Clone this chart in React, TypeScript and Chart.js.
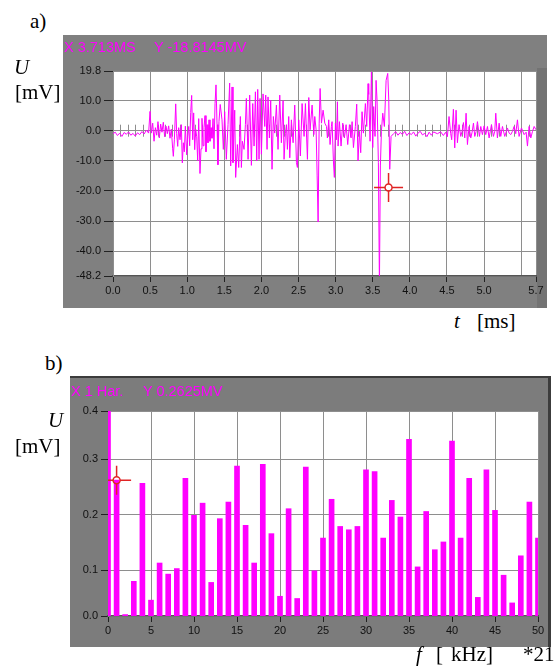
import React, { useEffect, useRef } from 'react';
import { Chart, registerables } from 'chart.js';

Chart.register(...registerables);

// ---------- Chart a): time signal ----------
const TIME_MS = [
  0.00, 0.03, 0.06, 0.09, 0.12, 0.15, 0.18, 0.21, 0.24, 0.27, 0.30, 0.33, 0.36, 0.39, 0.42, 0.45, 0.48,
  0.499, 0.517, 0.535, 0.553, 0.571, 0.589, 0.606, 0.624, 0.642, 0.660, 0.678, 0.696, 0.714, 0.732, 0.750,
  0.768, 0.786, 0.804, 0.813, 0.827, 0.845, 0.858, 0.872, 0.885, 0.903, 0.921, 0.934, 0.948, 0.961, 0.975,
  0.993, 1.006, 1.020, 1.033, 1.047, 1.060, 1.074, 1.087, 1.101, 1.114, 1.128, 1.141, 1.155, 1.172, 1.186,
  1.199, 1.213, 1.226, 1.240, 1.253, 1.267, 1.280, 1.294, 1.307, 1.321, 1.334, 1.348, 1.361, 1.375, 1.388,
  1.402, 1.414, 1.428, 1.445,
  1.469, 1.487, 1.505, 1.527, 1.550, 1.572, 1.586, 1.604, 1.617, 1.640, 1.653, 1.676, 1.694, 1.716, 1.730,
  1.743, 1.766, 1.784, 1.797, 1.820, 1.842, 1.865, 1.883, 1.901, 1.919, 1.937, 1.950, 1.968, 1.982, 2.000,
  2.022, 2.045, 2.058, 2.076, 2.089, 2.107, 2.125, 2.143, 2.161, 2.179, 2.202, 2.224, 2.247, 2.269, 2.292,
  2.305, 2.323, 2.337, 2.350, 2.368, 2.382, 2.404, 2.427, 2.449, 2.472, 2.485, 2.503, 2.525, 2.548, 2.575,
  2.593, 2.620, 2.638, 2.656, 2.683, 2.706, 2.719, 2.737, 2.751, 2.764, 2.778, 2.791, 2.809, 2.831, 2.854,
  2.877,
  2.889, 2.907, 2.925, 2.943, 2.952, 2.970, 2.983, 2.997, 3.011, 3.024, 3.033, 3.051, 3.073, 3.096, 3.118,
  3.141, 3.163, 3.186, 3.208, 3.222, 3.240, 3.266, 3.284, 3.302, 3.320, 3.338, 3.356, 3.374, 3.401, 3.419,
  3.437, 3.446, 3.464, 3.482, 3.500, 3.513, 3.531, 3.545, 3.558, 3.576, 3.590, 3.603, 3.617, 3.635, 3.657,
  3.680, 3.702, 3.716, 3.729, 3.747,
  3.78, 3.81, 3.84, 3.87, 3.90, 3.93, 3.96, 3.99, 4.02, 4.05, 4.08, 4.11, 4.14, 4.17, 4.20, 4.23, 4.26,
  4.29, 4.32,
  4.371, 4.416, 4.452, 4.483, 4.506, 4.528, 4.551, 4.564, 4.587, 4.605, 4.623, 4.641, 4.663, 4.686, 4.704,
  4.722, 4.740, 4.758, 4.776, 4.798, 4.821, 4.839, 4.857, 4.875, 4.893, 4.911, 4.938, 4.956, 4.978, 5.001,
  5.023, 5.046, 5.068, 5.100, 5.126, 5.144, 5.158, 5.180, 5.203, 5.225, 5.248, 5.279, 5.315, 5.338, 5.360,
  5.383, 5.405, 5.427, 5.450, 5.472, 5.504, 5.540, 5.567, 5.585, 5.607, 5.630, 5.652, 5.675, 5.700,
];

const U_MV = [
  -1.0, -0.5, -1.6, -0.8, -1.9, -0.6, -1.2, -0.4, -1.5, -0.9, -1.8, -0.7, -1.3, -0.3, -1.1, 0.2, -0.8,
  6.4, -0.8, 2.5, -3.5, 1.0, -1.5, 3.0, -2.4, 2.2, -0.5, 2.8, -2.0, 1.5, -1.0, 1.6,
  -2.5, 0.5, -6.0, -8.5, -3.0, 8.9, -1.0, -5.2, 1.0, -3.0, 2.0, -10.7, -4.0, -7.0, 1.5,
  -8.0, -2.0, 1.4, -5.0, 6.0, 11.7, -3.0, 5.9, -6.3, 0.5, -2.0, -10.0, 4.0, -14.2, -6.0,
  4.1, -5.0, 1.0, 5.0, -7.0, 2.0, -4.0, 3.6, -3.5, 1.0, -2.5, 4.0, -6.0, 9.0, 15.2,
  2.0, -11.3, 3.0, 8.7,
  3.6, -6.2, 6.3, -9.5, 2.0, 15.8, -11.7, 14.5, -10.6, 6.8, -15.5, -4.6, -12.2, 4.7, -12.2,
  -3.5, -6.2, 2.0, 10.7, -9.5, 11.8, -11.5, 9.0, -5.1, 12.9, -10.0, 13.7, -9.5, 10.7, -7.8,
  12.2, 1.4, 11.8, -6.2, 11.2, -2.4, 10.1, -12.8, 4.7, -0.8, 8.5, -6.2, 11.8, -4.0, 10.0,
  -9.5, -1.0, 2.0, -6.2, 4.7, -9.0, 3.6, -4.0, 8.5, -10.6, -12.2, 3.6, -8.4, 9.0, -1.9,
  9.0, -9.5, 11.0, 0.3, 8.5, -1.3, 4.7, 0.3, -15.0, -30.3, 2.5, 14.0, 2.5, 6.8, 2.5,
  1.4,
  -2.4, 3.6, -4.6, 1.4, 3.0, -10.0, -15.5, 2.5, -3.0, 9.6, -5.1, 3.0, -5.1, 2.5, -2.4,
  2.0, -4.6, 2.0, -2.4, 3.0, -5.6, 1.4, 8.8, -10.0, -0.2, -7.3, 6.3, -0.8, 9.0, 1.4,
  15.6, 12.0, -3.5, 19.5, -5.6, 8.0, -1.9, 16.7, 10.1, -10.6, -52.0, -11.7, -0.2, 5.8, 1.4,
  16.7, 19.0, 10.1, -12.8, -1.9,
  -1.0, -0.3, -1.5, -0.6, -1.2, -0.2, -1.6, -0.7, -1.3, -0.4, -1.8, -0.8, -0.2, -1.4, -0.9, -2.0, -0.5,
  -1.5, -0.4,
  -1.0, -0.4, -1.6, -0.5, -2.0, 4.7, -1.0, -3.0, 7.1, -5.7, 6.8, -4.0, 2.0, -1.9, -0.2,
  2.7, -2.4, 5.8, -4.6, 1.4, -2.4, -0.5, 2.5, -1.9, -0.3, 3.0, -1.9, 1.4, -1.3, 1.6,
  -1.3, 1.4, -2.4, 2.0, -1.9, -0.2, 5.8, -2.4, 2.5, -1.9, 1.4, -1.9, 0.9, -0.8, -1.3,
  -0.2, 1.4, -1.0, 3.6, -1.9, 0.9, -1.3, -0.5, -5.1, 1.4, -2.4, -0.3, 1.4, 0.3,
];

const Y_TICKS_A = [-48.2, -40, -30, -20, -10, 0, 10, 19.8];
const X_TICKS_A = [0, 0.5, 1, 1.5, 2, 2.5, 3, 3.5, 4, 4.5, 5, 5.5, 5.7];
const X_UNLABELED_A = [5.5];
const CURSOR_A_T = 3.713;
const CURSOR_A_U = -18.8145;

// ---------- Chart b): spectrum ----------
const HARMONICS = [
  0, 1, 2, 3, 4, 5, 6, 7, 8, 9, 10, 11, 12, 13, 14, 15, 16, 17, 18, 19, 20, 21, 22, 23, 24, 25,
  26, 27, 28, 29, 30, 31, 32, 33, 34, 35, 36, 37, 38, 39, 40, 41, 42, 43, 44, 45, 46, 47, 48, 49, 50,
];
const SPECTRUM_MV = [
  0.40, 0.2625, 0.020, 0.080, 0.257, 0.046, 0.113, 0.093, 0.103, 0.266, 0.199, 0.221, 0.078, 0.193,
  0.223, 0.288, 0.181, 0.113, 0.291, 0.166, 0.053, 0.211, 0.049, 0.286, 0.099, 0.158, 0.228, 0.179,
  0.173, 0.179, 0.281, 0.278, 0.158, 0.226, 0.196, 0.336, 0.106, 0.206, 0.137, 0.151, 0.333, 0.158,
  0.266, 0.051, 0.281, 0.208, 0.091, 0.041, 0.126, 0.223, 0.158,
];
const Y_TICKS_B = [0.0174, 0.1, 0.2, 0.3, 0.3873];
const X_TICKS_B = [0, 5, 10, 15, 20, 25, 30, 35, 40, 45, 50];
const CURSOR_B_H = 1;
const CURSOR_B_U = 0.2625;

const MAGENTA = '#ff00ff';
const GRID = '#8e8e8e';
const PANEL = '#808080';
const TICK_FONT = { family: 'Liberation Sans, Arial, sans-serif', size: 11 };

function drawCursor(chart: any, xv: number, yv: number) {
  const { ctx, chartArea: a, scales } = chart;
  const cx = scales.x.getPixelForValue(xv);
  const cy = scales.y.getPixelForValue(yv);
  ctx.save();
  ctx.beginPath();
  ctx.rect(a.left, a.top, a.right - a.left, a.bottom - a.top);
  ctx.clip();
  ctx.strokeStyle = '#e02424';
  ctx.lineWidth = 1.5;
  const r = 3.5;
  const L = 14.5;
  ctx.beginPath();
  ctx.moveTo(cx - L, cy); ctx.lineTo(cx - r, cy);
  ctx.moveTo(cx + r, cy); ctx.lineTo(cx + L, cy);
  ctx.moveTo(cx, cy - L); ctx.lineTo(cx, cy - r);
  ctx.moveTo(cx, cy + r); ctx.lineTo(cx, cy + L);
  ctx.stroke();
  ctx.beginPath();
  ctx.arc(cx, cy, r, 0, Math.PI * 2);
  ctx.stroke();
  ctx.restore();
}

const panelA = {
  id: 'panelA',
  beforeDraw(chart: any) {
    const { ctx, chartArea: a, width, height } = chart;
    ctx.save();
    ctx.fillStyle = PANEL;
    ctx.fillRect(0, 0, width, height);
    ctx.fillStyle = '#737373';
    ctx.fillRect(a.right + 1, a.top - 3, width - a.right - 1, height - a.top + 3);
    ctx.fillStyle = '#ffffff';
    ctx.fillRect(a.left, a.top, a.right - a.left, a.bottom - a.top);
    ctx.restore();
  },
  beforeDatasetsDraw(chart: any) {
    // small marks along the zero line, every 0.1 ms
    const { ctx, scales } = chart;
    const y0 = scales.y.getPixelForValue(0);
    ctx.save();
    ctx.strokeStyle = GRID;
    ctx.lineWidth = 1;
    ctx.beginPath();
    for (let k = 1; k < 57; k++) {
      if (k % 5 === 0) continue;
      const px = Math.round(scales.x.getPixelForValue(k / 10)) + 0.5;
      ctx.moveTo(px, y0 - 6);
      ctx.lineTo(px, y0 + 6);
    }
    ctx.stroke();
    ctx.restore();
  },
  afterDatasetsDraw(chart: any) {
    drawCursor(chart, CURSOR_A_T, CURSOR_A_U);
  },
};

const panelB = {
  id: 'panelB',
  beforeDraw(chart: any) {
    const { ctx, chartArea: a, width, height } = chart;
    ctx.save();
    ctx.fillStyle = '#7c7c7c';
    ctx.fillRect(0, 0, width, height);
    ctx.fillStyle = '#3c3c3c';
    ctx.fillRect(0, 0, width, 2);
    ctx.fillRect(width - 3, 0, 3, height);
    ctx.fillStyle = '#ffffff';
    ctx.fillRect(a.left, a.top, a.right - a.left, a.bottom - a.top);
    ctx.restore();
  },
  afterDatasetsDraw(chart: any) {
    drawCursor(chart, CURSOR_B_H, CURSOR_B_U);
  },
};

const serif: React.CSSProperties = {
  position: 'absolute',
  fontFamily: '"Liberation Serif", "Times New Roman", serif',
  fontSize: 21,
  lineHeight: '21px',
  color: '#000',
  whiteSpace: 'pre',
};
const readout: React.CSSProperties = {
  position: 'absolute',
  fontFamily: '"Liberation Sans", Arial, sans-serif',
  fontSize: 14.5,
  lineHeight: '14px',
  color: MAGENTA,
  whiteSpace: 'pre',
};

export default function App() {
  const refA = useRef<HTMLCanvasElement>(null);
  const refB = useRef<HTMLCanvasElement>(null);

  useEffect(() => {
    const chartA = new Chart(refA.current as HTMLCanvasElement, {
      type: 'line',
      data: {
        datasets: [
          {
            data: TIME_MS.map((t, i) => ({ x: t, y: U_MV[i] })),
            borderColor: MAGENTA,
            borderWidth: 1,
            pointRadius: 0,
            tension: 0,
          },
        ],
      },
      options: {
        animation: false,
        responsive: false,
        devicePixelRatio: 1,
        events: [],
        layout: { padding: { top: 36, right: 11, left: 0, bottom: 0 } },
        plugins: { legend: { display: false }, tooltip: { enabled: false } },
        scales: {
          x: {
            type: 'linear',
            min: 0,
            max: 5.7,
            afterBuildTicks: (s: any) => {
              s.ticks = X_TICKS_A.map((v) => ({ value: v }));
            },
            afterFit: (s: any) => {
              s.height = 32;
            },
            ticks: {
              autoSkip: false,
              maxRotation: 0,
              font: TICK_FONT,
              color: '#111',
              padding: 2,
              callback: (v: any) => (X_UNLABELED_A.includes(Number(v)) ? '' : Number(v).toFixed(1)),
            },
            grid: {
              color: GRID,
              lineWidth: 1,
              tickLength: 6,
              tickColor: (c: any) => (c.tick && X_UNLABELED_A.includes(c.tick.value) ? 'rgba(0,0,0,0)' : '#222'),
            },
            border: { color: '#555', width: 1.5 },
          },
          y: {
            type: 'linear',
            min: -48.2,
            max: 19.8,
            afterBuildTicks: (s: any) => {
              s.ticks = Y_TICKS_A.map((v) => ({ value: v }));
            },
            afterFit: (s: any) => {
              s.width = 50;
            },
            ticks: {
              autoSkip: false,
              font: TICK_FONT,
              color: '#111',
              padding: 3,
              callback: (v: any) => Number(v).toFixed(1),
            },
            grid: { color: GRID, lineWidth: 1, tickLength: 9, tickColor: '#222' },
            border: { color: GRID, width: 1 },
          },
        },
      },
      plugins: [panelA],
    } as any);

    const chartB = new Chart(refB.current as HTMLCanvasElement, {
      type: 'bar',
      data: {
        datasets: [
          {
            data: HARMONICS.map((h, i) => ({ x: h, y: SPECTRUM_MV[i] })),
            backgroundColor: MAGENTA,
            borderWidth: 0,
            barThickness: 5,
          },
        ],
      },
      options: {
        animation: false,
        responsive: false,
        devicePixelRatio: 1,
        events: [],
        layout: { padding: { top: 35, right: 13, left: 0, bottom: 0 } },
        plugins: { legend: { display: false }, tooltip: { enabled: false } },
        scales: {
          x: {
            type: 'linear',
            min: 0,
            max: 50,
            offset: false,
            afterBuildTicks: (s: any) => {
              s.ticks = X_TICKS_B.map((v) => ({ value: v }));
            },
            afterFit: (s: any) => {
              s.height = 31;
            },
            ticks: {
              autoSkip: false,
              maxRotation: 0,
              font: TICK_FONT,
              color: '#111',
              padding: 2,
              callback: (v: any) => String(v),
            },
            grid: { offset: false, color: GRID, lineWidth: 1, tickLength: 6, tickColor: '#222' },
            border: { color: '#555', width: 1.5 },
          },
          y: {
            type: 'linear',
            min: Y_TICKS_B[0],
            max: Y_TICKS_B[Y_TICKS_B.length - 1],
            beginAtZero: false,
            afterBuildTicks: (s: any) => {
              s.ticks = Y_TICKS_B.map((v) => ({ value: v }));
            },
            afterFit: (s: any) => {
              s.width = 38;
            },
            ticks: {
              autoSkip: false,
              font: TICK_FONT,
              color: '#111',
              padding: 3,
              callback: (v: any) => Number(v).toFixed(1),
            },
            grid: { color: GRID, lineWidth: 1, tickLength: 7, tickColor: '#222' },
            border: { color: GRID, width: 1 },
          },
        },
      },
      plugins: [panelB],
    } as any);

    return () => {
      chartA.destroy();
      chartB.destroy();
    };
  }, []);

  return (
    <div
      style={{
        position: 'fixed',
        left: 0,
        top: 0,
        width: 557,
        height: 668,
        background: '#fff',
        overflow: 'hidden',
      }}
    >
      <canvas ref={refA} width={484} height={273} style={{ position: 'absolute', left: 63, top: 35 }} />
      <canvas ref={refB} width={481} height={271} style={{ position: 'absolute', left: 70, top: 376 }} />

      {/* chart a texts */}
      <div style={{ ...serif, left: 30, top: 11 }}>a)</div>
      <div style={{ ...serif, left: 14, top: 57, fontStyle: 'italic' }}>U</div>
      <div style={{ ...serif, left: 15, top: 82 }}>[mV]</div>
      <div style={{ ...readout, left: 64, top: 40 }}>{`X ${CURSOR_A_T}MS`}</div>
      <div style={{ ...readout, left: 154, top: 40 }}>{`Y ${CURSOR_A_U}MV`}</div>
      <div style={{ ...serif, left: 454, top: 311, fontStyle: 'italic' }}>t</div>
      <div style={{ ...serif, left: 477, top: 311 }}>[ms]</div>

      {/* chart b texts */}
      <div style={{ ...serif, left: 45, top: 353 }}>b)</div>
      <div style={{ ...serif, left: 48, top: 410, fontStyle: 'italic' }}>U</div>
      <div style={{ ...serif, left: 15, top: 436 }}>[mV]</div>
      <div style={{ ...readout, left: 71, top: 384 }}>{`X ${CURSOR_B_H} Har.`}</div>
      <div style={{ ...readout, left: 143, top: 384 }}>{`Y ${CURSOR_B_U}MV`}</div>
      <div style={{ ...serif, left: 416, top: 644, fontStyle: 'italic' }}>f</div>
      <div style={{ ...serif, left: 436, top: 644 }}>[</div>
      <div style={{ ...serif, left: 451, top: 644 }}>kHz]</div>
      <div style={{ ...serif, left: 523, top: 644 }}>*21</div>
    </div>
  );
}
